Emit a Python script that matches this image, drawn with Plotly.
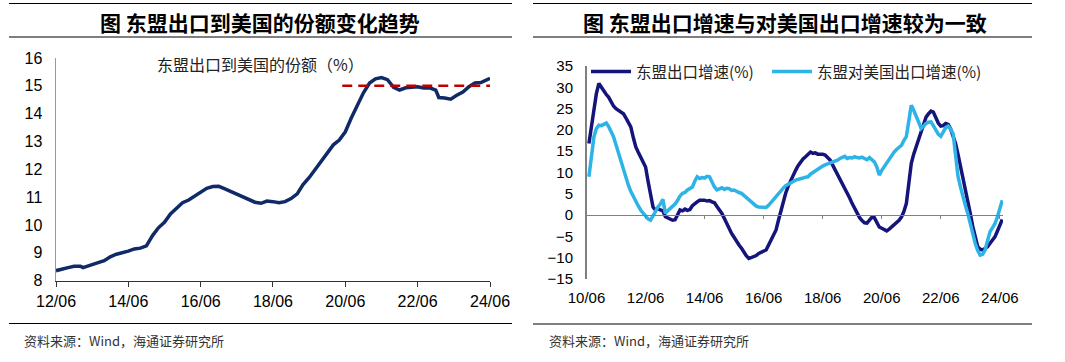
import plotly.graph_objects as go
import pandas as pd

# ---------------- Left chart: ASEAN export share to US (%) ----------------
share_dates = [
    "2012-06", "2012-08", "2012-10", "2012-12", "2013-02", "2013-03", "2013-04", "2013-06",
    "2013-08", "2013-10", "2013-12", "2014-02", "2014-04", "2014-06", "2014-08", "2014-10",
    "2014-12", "2015-02", "2015-04", "2015-06", "2015-08", "2015-10", "2015-12", "2016-02",
    "2016-04", "2016-06", "2016-08", "2016-10", "2016-12", "2017-02", "2017-04", "2017-06",
    "2017-08", "2017-10", "2017-12", "2018-02", "2018-04", "2018-06", "2018-08", "2018-10",
    "2018-12", "2019-02", "2019-04", "2019-06", "2019-08", "2019-10", "2019-12", "2020-02",
    "2020-04", "2020-06", "2020-08", "2020-10", "2020-12", "2021-02", "2021-04", "2021-06",
    "2021-08", "2021-10", "2021-12", "2022-02", "2022-04", "2022-06", "2022-08", "2022-10",
    "2022-12", "2023-01", "2023-03", "2023-05", "2023-07", "2023-09", "2023-11", "2024-01",
    "2024-03", "2024-05", "2024-06",
]
share_values = [
    8.36, 8.40, 8.47, 8.52, 8.52, 8.47, 8.50, 8.58,
    8.65, 8.72, 8.86, 8.95, 9.00, 9.06, 9.14, 9.17,
    9.25, 9.62, 9.90, 10.10, 10.40, 10.62, 10.80, 10.90,
    11.05, 11.20, 11.32, 11.38, 11.39, 11.30, 11.20, 11.10,
    11.00, 10.90, 10.82, 10.78, 10.86, 10.84, 10.80, 10.84,
    10.95, 11.12, 11.45, 11.70, 12.00, 12.30, 12.58, 12.88,
    13.05, 13.35, 13.85, 14.30, 14.75, 15.10, 15.25, 15.30,
    15.22, 14.95, 14.85, 14.93, 14.95, 14.97, 14.92, 14.93,
    14.85, 14.58, 14.56, 14.52, 14.66, 14.78, 14.97, 15.10,
    15.12, 15.22, 15.27,
]
ref_dates = ["2020-05-01", "2024-09-01"]
ref_values = [15, 15]

# ---------------- Right chart: export growth (%) ----------------
growth_dates = pd.date_range("2010-07-01", "2024-07-01", freq="MS")
asean_export = [
    16.8, 21.0, 24.6, 28.5, 30.9, 30.0,                                         # 2010 Jul-Dec
    29.3, 28.3, 27.7, 26.6, 25.6, 25.0, 24.6, 24.2, 23.8, 22.8, 21.8, 20.7,     # 2011
    18.2, 16.0, 14.8, 13.6, 12.5, 11.3, 8.0, 4.5, 1.9, 1.2, 1.5, 1.2,           # 2012
    1.0, -0.4, -0.6, -0.9, -1.2, -1.1, 0.2, 1.2, 1.0, 1.4, 1.1, 1.3,            # 2013
    2.2, 2.8, 3.1, 3.5, 3.6, 3.5, 3.3, 3.4, 3.1, 2.9, 2.0, 1.2,                 # 2014
    0.4, -0.8, -2.0, -3.2, -4.3, -5.2, -6.2, -7.0, -7.8, -8.8, -9.6, -10.2,     # 2015
    -10.0, -9.7, -9.5, -9.0, -8.7, -8.6, -8.2, -7.0, -5.8, -4.8, -3.5, -1.2,    # 2016
    1.0, 3.5, 5.2, 6.8, 8.2, 9.4, 10.5, 11.6, 12.5, 13.2, 13.7, 14.4,           # 2017
    14.8, 14.5, 14.6, 14.3, 14.4, 14.3, 14.1, 13.6, 12.9, 11.8, 10.7, 9.6,      # 2018
    8.6, 7.6, 6.6, 5.3, 4.0, 2.7, 1.5, 0.4, -0.6, -1.3, -1.8, -1.9,             # 2019
    -1.2, -0.5, -0.6, -1.8, -2.8, -3.1, -3.5, -3.7, -3.3, -2.8, -2.3, -1.8,     # 2020
    -1.2, -0.4, 0.8, 2.7, 7.5, 12.1, 14.3, 16.0, 17.6, 19.5, 21.5, 23.0,        # 2021
    23.8, 24.4, 24.2, 23.0, 21.6, 20.9, 21.0, 21.5, 21.3, 20.2, 18.6, 16.8,     # 2022
    14.2, 11.5, 9.0, 6.0, 3.2, 0.4, -2.6, -5.2, -7.4, -8.0, -8.2, -7.8,         # 2023
    -7.4, -6.6, -6.0, -5.1, -3.8, -2.3, -1.0,                                   # 2024 Jan-Jul
]
asean_to_us = [
    9.0, 14.5, 18.4, 20.3, 21.1, 21.0,                                          # 2010 Jul-Dec
    21.4, 21.6, 20.8, 19.6, 18.4, 16.5, 14.5, 12.4, 10.5, 8.6, 7.0, 5.6,        # 2011
    4.3, 3.2, 2.2, 1.2, 0.4, -0.3, -0.9, -1.2, -0.3, 0.8, 1.9, 2.6,             # 2012
    3.7, 0.4, 1.0, 1.5, 1.9, 2.6, 3.4, 4.5, 5.1, 5.3, 5.9, 6.3,                 # 2013
    6.6, 8.0, 9.0, 8.6, 8.8, 8.7, 9.1, 9.0, 7.8, 6.6, 5.9, 6.1,                 # 2014
    6.4, 6.0, 6.3, 6.2, 5.8, 5.9, 5.5, 5.3, 5.1, 4.6, 4.0, 3.5,                 # 2015
    3.1, 2.5, 2.1, 1.9, 1.9, 2.0, 1.8, 2.3, 3.0, 3.8, 4.6, 5.3,                 # 2016
    5.9, 6.4, 6.9, 7.3, 7.6, 7.9, 8.2, 8.3, 8.6, 8.7, 8.9, 9.0,                 # 2017
    9.6, 10.0, 10.4, 10.8, 11.3, 11.5, 11.8, 12.0, 12.2, 12.3, 12.5, 12.9,      # 2018
    13.3, 13.5, 13.8, 13.3, 13.5, 13.4, 13.7, 13.5, 13.4, 13.6, 13.3, 13.0,     # 2019
    13.5, 13.1, 12.5, 11.3, 9.4, 10.5, 11.4, 12.1, 13.2, 14.1, 14.8, 15.4,      # 2020
    16.0, 16.4, 17.5, 18.4, 22.0, 25.8, 24.6, 23.4, 21.8, 20.3, 21.0, 21.5,     # 2021
    21.8, 21.9, 21.0, 20.0, 19.0, 18.5, 19.5, 20.5, 20.9, 20.2, 19.1, 14.5,     # 2022
    9.0, 6.5, 4.2, 2.3, 0.4, -2.2, -4.6, -6.6, -8.3, -9.4, -9.2, -8.2,          # 2023
    -6.0, -3.9, -3.0, -2.0, -0.5, 1.5, 3.5,                                     # 2024 Jan-Jul
]
assert len(asean_export) == len(growth_dates) == len(asean_to_us)

NAVY_L = "#0f2a66"
NAVY_R = "#14147a"
LIGHT = "#2eb3e6"
RED = "#c00000"
NUM_FONT = "Liberation Sans, Arial, sans-serif"
CJK_FONT = "Noto Sans CJK SC, sans-serif"

W, H = 1065, 362


def px(x):
    return x / W


def py(y):
    return 1 - y / H


fig = go.Figure()

fig.add_trace(go.Scatter(x=share_dates, y=share_values, mode="lines",
                         line=dict(color=NAVY_L, width=3.5), showlegend=False,
                         xaxis="x", yaxis="y"))
fig.add_trace(go.Scatter(x=ref_dates, y=ref_values, mode="lines",
                         line=dict(color=RED, width=2.5, dash="10px,6px"), showlegend=False,
                         xaxis="x", yaxis="y"))

fig.add_trace(go.Scatter(x=growth_dates, y=asean_export, mode="lines", name="东盟出口增速(%)",
                         line=dict(color=NAVY_R, width=3.5), xaxis="x2", yaxis="y2",
                         legend="legend"))
fig.add_trace(go.Scatter(x=growth_dates, y=asean_to_us, mode="lines", name="东盟对美国出口增速(%)",
                         line=dict(color=LIGHT, width=3.5), xaxis="x2", yaxis="y2",
                         legend="legend2"))
# empty trace that attaches the zero-line axis
fig.add_trace(go.Scatter(x=[], y=[], mode="lines", showlegend=False, hoverinfo="skip",
                         xaxis="x3", yaxis="y2"))

# decorative horizontal rules (above/below titles, above source notes), drawn on a
# hidden full-page pixel axis pair
rules = [(9, 512, 3.5), (9, 512, 37), (9, 512, 323.5),
         (533, 1032, 3.5), (533, 1032, 37), (533, 1032, 324)]
rx, ry = [], []
for x0, x1, y in rules:
    rx += [x0, x1, None]
    ry += [y, y, None]
fig.add_trace(go.Scatter(x=rx, y=ry, mode="lines", line=dict(color="#000", width=1.2),
                         showlegend=False, hoverinfo="skip", xaxis="x4", yaxis="y4",
                         cliponaxis=False))

right_range = ["2010-06-01", "2024-07-10"]
legend_font = dict(family=CJK_FONT, size=15.5, color="#222")

fig.update_layout(
    width=W, height=H,
    margin=dict(l=0, r=0, t=0, b=0, autoexpand=False),
    paper_bgcolor="white", plot_bgcolor="rgba(0,0,0,0)",
    xaxis=dict(domain=[px(56), px(490)], anchor="y", type="date", automargin=False,
               range=["2012-06-01", "2024-06-01"], tick0="2012-06-01", dtick="M24",
               tickformat="%y/%m", ticks="outside", ticklen=5, tickcolor="#333",
               showline=True, linecolor="#333", linewidth=1, showgrid=False, zeroline=False,
               tickfont=dict(family=NUM_FONT, size=16, color="#000"), ticklabelstandoff=1),
    yaxis=dict(domain=[py(280.7), py(58)], anchor="x", range=[8, 16], dtick=1, automargin=False,
               showline=True, linecolor="#999", linewidth=1.5, ticks="", showgrid=False,
               zeroline=False, tickfont=dict(family=NUM_FONT, size=16, color="#000"),
               ticklabelstandoff=9),
    xaxis2=dict(domain=[px(586.5), px(1003)], anchor="y2", type="date", range=right_range,
                automargin=False,
                tick0="2010-06-01", dtick="M24", tickformat="%y/%m", ticks="",
                showline=False, showgrid=False, zeroline=False,
                tickfont=dict(family=NUM_FONT, size=15, color="#000"), ticklabelstandoff=8),
    xaxis3=dict(overlaying="x2", anchor="free", position=py(214.7), type="date",
                automargin=False,
                range=right_range, tick0="2010-06-01", dtick="M24", ticks="outside",
                ticklen=3, tickcolor="#808080", showline=True, linecolor="#808080",
                linewidth=1.5, showticklabels=False, showgrid=False, zeroline=False),
    yaxis2=dict(domain=[py(279), py(66)], anchor="x2", range=[-15, 35], dtick=5,
                automargin=False,
                showline=True, linecolor="#808080", linewidth=1.5, ticks="", showgrid=False,
                zeroline=False, tickfont=dict(family=NUM_FONT, size=15, color="#000"),
                ticklabelstandoff=9),
    xaxis4=dict(domain=[0, 1], anchor="y4", range=[0, W], visible=False, automargin=False,
                showgrid=False, zeroline=False),
    yaxis4=dict(domain=[0, 1], anchor="x4", range=[H, 0], visible=False, automargin=False,
                showgrid=False, zeroline=False),
    legend=dict(orientation="h", x=px(586), y=py(72), xanchor="left", yanchor="middle",
                bgcolor="rgba(0,0,0,0)", font=legend_font, itemwidth=40),
    legend2=dict(orientation="h", x=px(767), y=py(72), xanchor="left", yanchor="middle",
                 bgcolor="rgba(0,0,0,0)", font=legend_font, itemwidth=40),
    showlegend=True,
)

annotations = [
    dict(text="<b>图 东盟出口到美国的份额变化趋势</b>", x=px(260), y=py(22),
         font=dict(family=CJK_FONT, size=21, color="#000")),
    dict(text="<b>图 东盟出口增速与对美国出口增速较为一致</b>", x=px(785), y=py(22),
         font=dict(family=CJK_FONT, size=21, color="#000")),
    dict(text="东盟出口到美国的份额（%）", x=px(260), y=py(64),
         font=dict(family=CJK_FONT, size=16, color="#222")),
    dict(text="资料来源：Wind，海通证券研究所", x=px(22), y=py(340), xanchor="left",
         font=dict(family=CJK_FONT, size=13, color="#333")),
    dict(text="资料来源：Wind，海通证券研究所", x=px(547), y=py(340), xanchor="left",
         font=dict(family=CJK_FONT, size=13, color="#333")),
]
for a in annotations:
    a.setdefault("xanchor", "center")
    fig.add_annotation(xref="paper", yref="paper", yanchor="middle", showarrow=False, **a)

# remove the browser's default 8px page margin so the figure sits at the window origin
fig.write_html("out.html",
               config={"displayModeBar": False, "staticPlot": True},
               post_script="document.body.style.margin='0';document.body.style.overflow='hidden';")
